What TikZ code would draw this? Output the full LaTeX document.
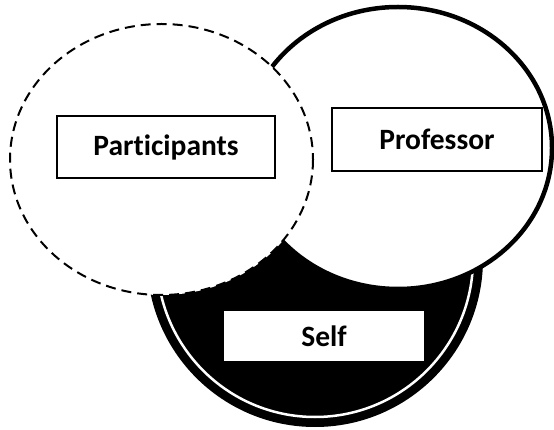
\documentclass[tikz,border=0pt]{standalone}
\usepackage{fontspec}
\setmainfont{Carlito}[Ligatures=NoCommon]
\usetikzlibrary{positioning}

\tikzset{
    name box/.style={rectangle,
          draw=black,
          line width=1.5pt,
          fill=white,
          inner sep=0pt,
          font=\fontsize{29.5}{34}\selectfont\bfseries}
}

\begin{document}
\begin{tikzpicture}[x=1pt,y=-1pt]
    \useasboundingbox (0,0) rectangle (554,430);
    % The self circle, black with a white ring
    \fill[black] (315,259) circle [radius=168];
    \draw[white, line width=2.5pt] (315,259) circle [radius=158];
    % The professor circle
    \draw[line width=4.5pt,
          fill=white] (398,148) ellipse [x radius=154, y radius=141];
    % The participants circle
    \draw[line width=2pt,
          dash pattern=on 10pt off 6pt,
          fill=white] (161.5,159.5) ellipse [x radius=151.5, y radius=135.5];
    % Add the names
    \node[name box,
          minimum width=218,
          minimum height=62] (participants) at (166,147) {Participants};
    \node[name box,
          minimum width=210,
          minimum height=63] (professor) at (437,139.5) {Professor};
    \node[name box,
          draw=white,
          minimum width=198,
          minimum height=48] (self) at (324,336) {Self};
\end{tikzpicture}
\end{document}
